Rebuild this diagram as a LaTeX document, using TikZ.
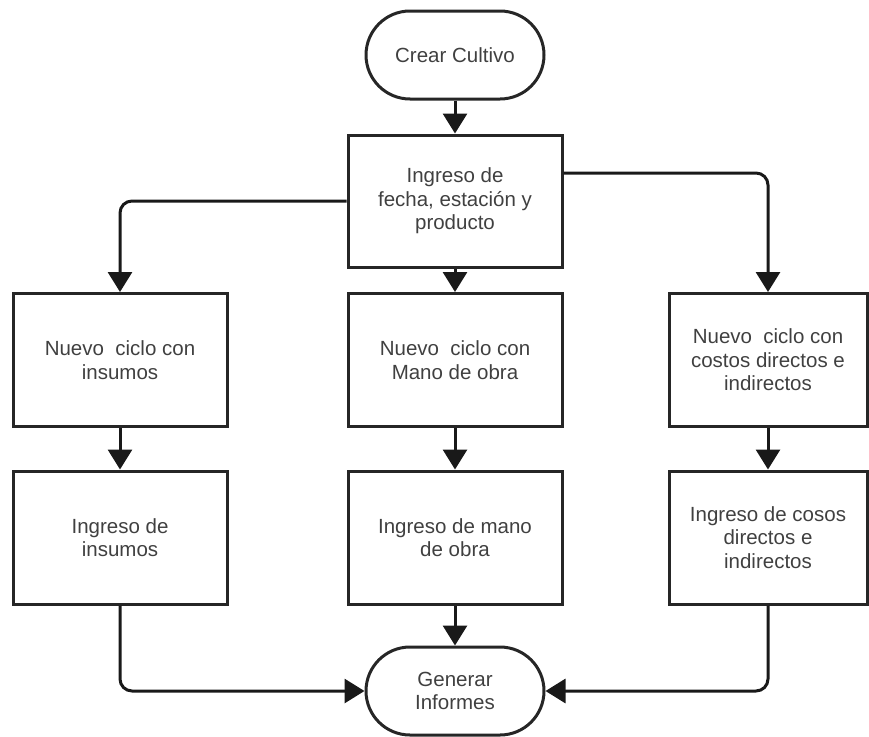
\documentclass[tikz,border=0pt]{standalone}
\usepackage{fontspec}
\setmainfont{Liberation Sans}
\usetikzlibrary{arrows.meta}

\begin{document}
\begin{tikzpicture}[x=1pt,y=-1pt,
  box/.style={rectangle,draw=black!85,line width=3pt,minimum width=214pt,minimum height=133pt,
    align=center,text=black!75,font=\fontsize{20.5}{23.5}\selectfont},
  term/.style={box,minimum width=178pt,minimum height=88pt,rounded corners=44pt},
  flow/.style={line width=3pt,draw=black!90,-{Triangle[length=20pt,width=24pt]},rounded corners=12pt}]
%\draw[help lines] (0,0) grid[step=50] (869,736);
\useasboundingbox (0,0) rectangle (869,736);
\path
(455,55) node(crear) [term] {Crear Cultivo}
(455,201) node(fecha) [box,minimum height=132pt] {Ingreso de\\fecha, estación y\\producto}
(120,360) node(insumos) [box] {Nuevo\ \ ciclo con\\insumos}
(455,360) node(mano) [box] {Nuevo\ \ ciclo con\\Mano de obra}
(768,360) node(costos) [box,minimum width=198pt] {Nuevo\ \ ciclo con\\costos directos e\\indirectos}
(120,537.5) node(ingins) [box] {Ingreso de\\insumos}
(455,537.5) node(ingmano) [box] {Ingreso de mano\\de obra}
(768,537.5) node(ingcostos) [box,minimum width=198pt] {Ingreso de cosos\\directos e\\indirectos}
(455,691) node(informes) [term] {Generar\\Informes};
\draw[flow] (crear) -- (fecha);
\draw[flow] (fecha.west) -| (insumos.north);
\draw[flow] (fecha) -- (mano);
\draw[flow] ([yshift=28pt]fecha.east) -| (costos.north);
\draw[flow] (insumos) -- (ingins);
\draw[flow] (mano) -- (ingmano);
\draw[flow] (costos) -- (ingcostos);
\draw[flow] (ingins.south) |- (informes.west);
\draw[flow] (ingmano) -- (informes);
\draw[flow] (ingcostos.south) |- (informes.east);
\end{tikzpicture}
\end{document}
